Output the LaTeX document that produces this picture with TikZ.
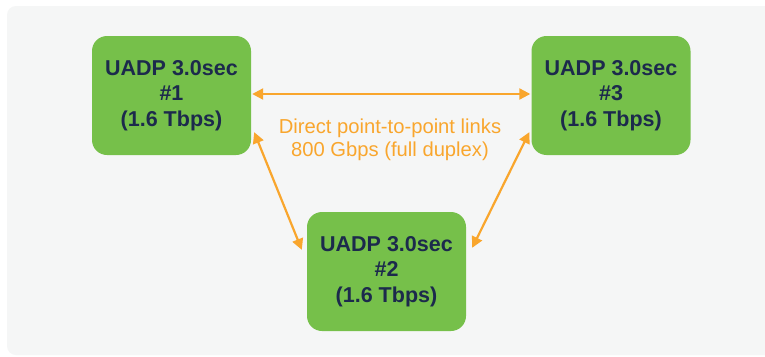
\documentclass[tikz,border=0pt]{standalone}
\usepackage{fontspec}
\setmainfont{Liberation Sans}
\usetikzlibrary{calc,arrows.meta}
\definecolor{panelbg}{HTML}{F5F6F6}
\definecolor{boxgreen}{HTML}{76C04A}
\definecolor{navytext}{HTML}{1C2A4C}
\definecolor{linkorange}{HTML}{F9A62D}
\tikzset{
  chip/.style={draw=none, fill=boxgreen, rounded corners=15pt, minimum width=159pt, minimum height=119pt,
    inner sep=0pt, align=center, text=navytext,
    font=\fontsize{21.5pt}{25.5pt}\selectfont\bfseries},
  link/.style={draw=linkorange, line width=2.2pt, {Triangle[length=11pt,width=11pt]}-{Triangle[length=11pt,width=11pt]}},
  linklabel/.style={text=linkorange, align=center, font=\fontsize{20.2pt}{23pt}\selectfont}
}
\begin{document}
\begin{tikzpicture}[x=1pt,y=-1pt]
\useasboundingbox (0,0) rectangle (765,356);
\fill[white] (0,0) rectangle (765,356);
\fill[panelbg, rounded corners=9pt] (7,6) rectangle (790,355);
\node[chip] (b1) at (171.5,95.5) {UADP 3.0sec\\\#1\\(1.6 Tbps)};
\node[chip] (b3) at (611,95.5) {UADP 3.0sec\\\#3\\(1.6 Tbps)};
\node[chip] (b2) at (386.5,271.5) {UADP 3.0sec\\\#2\\(1.6 Tbps)};
\coordinate (l12a) at ($(b1.south east)+(3,-23)$);
\coordinate (l12b) at ($(b2.north west)+(-5,38)$);
\coordinate (l32a) at ($(b3.south west)+(-2,-23)$);
\coordinate (l32b) at ($(b2.north east)+(6,36)$);
\coordinate (l13a) at ($(b1.east)+(1,-1.5)$);
\coordinate (l13b) at ($(b3.west)+(-1,-1.5)$);
\draw[link] (l13a) -- (l13b);
\draw[link] (l12a) -- (l12b);
\draw[link] (l32a) -- (l32b);
\node[linklabel] (lbl) at (390,139.5) {Direct point-to-point links\\800 Gbps (full duplex)};
\end{tikzpicture}
\end{document}
